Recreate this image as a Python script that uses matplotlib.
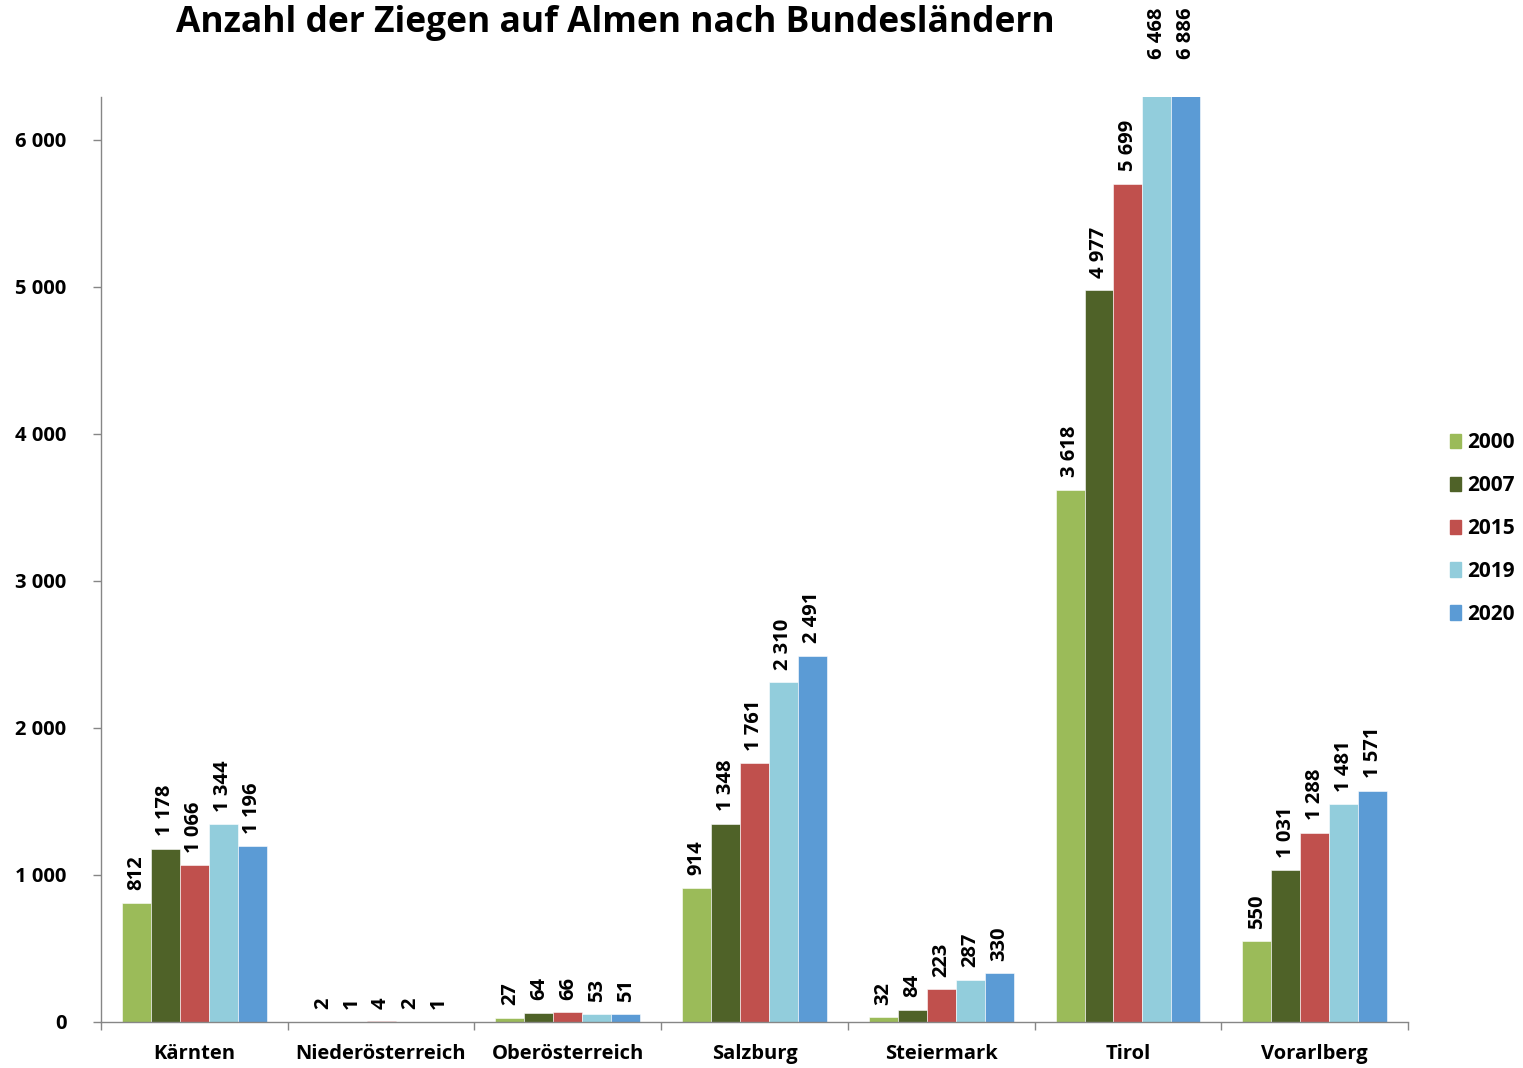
import matplotlib
matplotlib.use('Agg')
import numpy as np
import matplotlib.pyplot as plt
from matplotlib.patches import Patch

plt.rcParams['font.family'] = ['Open Sans', 'DejaVu Sans']
plt.rcParams['font.weight'] = 'bold'

# Ziegen auf Almen je Bundesland
laender = ['Kärnten', 'Niederösterreich', 'Oberösterreich', 'Salzburg',
           'Steiermark', 'Tirol', 'Vorarlberg']
jahre = ['2000', '2007', '2015', '2019', '2020']
werte_2000 = [812, 2, 27, 914, 32, 3618, 550]
werte_2007 = [1178, 1, 64, 1348, 84, 4977, 1031]
werte_2015 = [1066, 4, 66, 1761, 223, 5699, 1288]
werte_2019 = [1344, 2, 53, 2310, 287, 6468, 1481]
werte_2020 = [1196, 1, 51, 2491, 330, 6886, 1571]
farben = ['#9BBB59', '#4F6228', '#C0504D', '#92CDDC', '#5B9BD5']

reihen = [werte_2000, werte_2007, werte_2015, werte_2019, werte_2020]

def fmt(v):
    return f'{v:,}'.replace(',', ' ')

fig = plt.figure(figsize=(15.23, 10.68), dpi=100)
ax = fig.add_axes([0.0663, 0.0431, 0.8582, 0.8661])

x = np.arange(len(laender))
breite = 0.155
ymax = 6290

for i, (werte, farbe) in enumerate(zip(reihen, farben)):
    pos = x + (i - 2) * breite
    ax.bar(pos, werte, width=breite, color=farbe, label=jahre[i],
           edgecolor='white', linewidth=0.4)
    for p, v in zip(pos, werte):
        # labels over the axis top are kept inside the figure
        ly = min(v, 6460)
        ax.annotate(fmt(v), (p, ly), xytext=(0, 9), textcoords='offset points',
                    rotation=90, ha='center', va='bottom', fontsize=14.5,
                    fontweight='bold', annotation_clip=False)

ax.set_xlim(-0.5, len(laender) - 0.5)
ax.set_ylim(0, ymax)

ax.set_yticks(np.arange(0, 6001, 1000))
ax.set_yticklabels([fmt(v) for v in range(0, 6001, 1000)], fontsize=14.5,
                   fontweight='bold')
ax.tick_params(axis='y', direction='out', length=6, width=1, color='#868686',
               pad=19)

ax.set_xticks(np.arange(-0.5, len(laender)), minor=False)
ax.set_xticklabels([])
ax.set_xticks(x, minor=True)
ax.set_xticklabels(laender, minor=True, fontsize=14.5, fontweight='bold')
ax.tick_params(axis='x', which='major', direction='out', length=6, width=1,
               color='#868686')
ax.tick_params(axis='x', which='minor', length=0, pad=16)

for s in ['top', 'right']:
    ax.spines[s].set_visible(False)
for s in ['left', 'bottom']:
    ax.spines[s].set_color('#868686')
    ax.spines[s].set_linewidth(1)

fig.text(0.404, 0.978, 'Anzahl der Ziegen auf Almen nach Bundesländern',
         ha='center', va='center', fontsize=25.5, fontweight='bold')

handles = [Patch(color=c, label=j) for c, j in zip(farben, jahre)]
fig.legend(handles=handles, loc='center left', bbox_to_anchor=(0.9465, 0.505),
           frameon=False, fontsize=15, handlelength=0.55, handleheight=0.7,
           handletextpad=0.3, labelspacing=1.05, borderaxespad=0)

fig.savefig('out.png', dpi=100)
